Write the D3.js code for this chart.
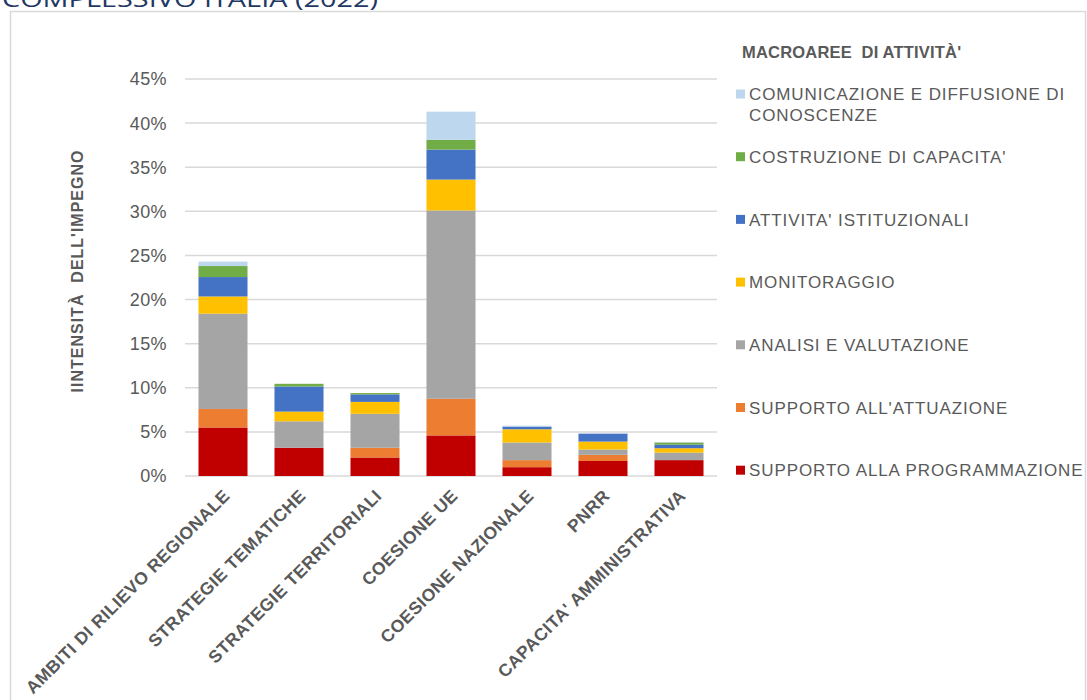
<!DOCTYPE html>
<html>
<head>
<meta charset="utf-8">
<script src="https://cdn.jsdelivr.net/npm/d3@7"></script>
<style>
  body { margin: 0; background: #fff; }
  svg text { font-family: "Liberation Sans", Arial, sans-serif; white-space: pre; }
</style>
</head>
<body>
<svg id="chart" width="1087" height="700"></svg>
<script>
// categories (x axis)
const categories = ["AMBITI DI RILIEVO REGIONALE", "STRATEGIE TEMATICHE", "STRATEGIE TERRITORIALI",
    "COESIONE UE", "COESIONE NAZIONALE", "PNRR", "CAPACITA' AMMINISTRATIVA"];

// series, bottom to top of the stack (values in %)
const seriesNames = ["SUPPORTO ALLA PROGRAMMAZIONE", "SUPPORTO ALL'ATTUAZIONE", "ANALISI E VALUTAZIONE",
    "MONITORAGGIO", "ATTIVITA' ISTITUZIONALI", "COSTRUZIONE DI CAPACITA'",
    "COMUNICAZIONE E DIFFUSIONE DI CONOSCENZE"];
const supportoProgrammazione = [5.5, 3.2, 2.1, 4.6, 1.0, 1.7, 1.8];
const supportoAttuazione     = [2.1, 0.0, 1.1, 4.15, 0.8, 0.7, 0.0];
const analisiValutazione     = [10.8, 3.0, 3.85, 21.35, 2.0, 0.6, 0.85];
const monitoraggio           = [1.95, 1.1, 1.35, 3.5, 1.5, 0.9, 0.5];
const attivitaIstituzionali  = [2.2, 2.85, 0.85, 3.4, 0.3, 0.9, 0.4];
const costruzioneCapacita    = [1.25, 0.3, 0.15, 1.1, 0.0, 0.0, 0.25];
const comunicazione          = [0.5, 0.0, 0.0, 3.2, 0.1, 0.0, 0.05];
const seriesColors = ["#c00000", "#ed7d31", "#a5a5a5", "#ffc000", "#4472c4", "#70ad47", "#bdd7ee"];

const yTicks = [0, 5, 10, 15, 20, 25, 30, 35, 40, 45];

const allSeries = [supportoProgrammazione, supportoAttuazione, analisiValutazione,
    monitoraggio, attivitaIstituzionali, costruzioneCapacita, comunicazione];

// one row per category for d3.stack
let table = categories.map((c, i) => {
    let row = { cat: c };
    seriesNames.forEach((s, j) => { row[s] = allSeries[j][i]; });
    return row;
});

let svg = d3.select("#chart");
let gray = "#595959";

// outer frame + cut off page title
svg.append("rect")
    .attr("x", 10.5).attr("y", 11.5)
    .attr("width", 1075).attr("height", 700)
    .attr("fill", "none").attr("stroke", "#d9d9d9").attr("stroke-width", 1.5);

svg.append("text")
    .attr("x", 2).attr("y", 7)
    .attr("textLength", 376).attr("lengthAdjust", "spacingAndGlyphs")
    .style("font-family", "'Open Sans', sans-serif")
    .style("font-size", "22px")
    .attr("fill", "#1f3864")
    .text("COMPLESSIVO ITALIA (2022)");

let x = d3.scaleBand()
    .domain(categories)
    .range([185, 717])
    .paddingInner(0.355)
    .paddingOuter(0.1775);

let y = d3.scaleLinear()
    .domain([0, 45])
    .range([476, 79]);

// gridlines
svg.append("g")
    .selectAll("line")
    .data(yTicks)
    .join("line")
    .attr("x1", 185).attr("x2", 717)
    .attr("y1", d => y(d)).attr("y2", d => y(d))
    .attr("stroke", "#d9d9d9").attr("stroke-width", 1.5);

// y tick labels
svg.append("g")
    .selectAll("text")
    .data(yTicks)
    .join("text")
    .attr("x", 167).attr("y", d => y(d))
    .attr("dy", "0.36em")
    .attr("text-anchor", "end")
    .style("font-size", "18px")
    .style("letter-spacing", "0.4px")
    .attr("fill", gray)
    .text(d => d + "%");

// axis title
svg.append("text")
    .attr("transform", "translate(83,271) rotate(-90)")
    .attr("text-anchor", "middle")
    .style("font-size", "16px")
    .style("font-weight", "bold")
    .style("letter-spacing", "1px")
    .attr("fill", gray)
    .text("IINTENSITÀ  DELL'IMPEGNO");

// stacked bars
let stack = d3.stack().keys(seriesNames);
let layers = stack(table);

svg.append("g")
    .selectAll("g")
    .data(layers)
    .join("g")
    .attr("fill", (d, i) => seriesColors[i])
    .selectAll("rect")
    .data(d => d)
    .join("rect")
    .attr("x", d => x(d.data.cat))
    .attr("width", x.bandwidth())
    .attr("y", d => y(d[1]))
    .attr("height", d => y(d[0]) - y(d[1]));

// x labels, rotated
svg.append("g")
    .selectAll("text")
    .data(categories)
    .join("text")
    .attr("transform", d => "translate(" + (x(d) + x.bandwidth() / 2 - 1) + ",488) rotate(-45)")
    .attr("dy", "0.72em")
    .attr("text-anchor", "end")
    .style("font-size", "17.5px")
    .style("font-weight", "bold")
    .style("letter-spacing", "0.5px")
    .attr("fill", gray)
    .text(d => d);

// legend
let legend = svg.append("g");
legend.append("text")
    .attr("x", 742).attr("y", 52)
    .attr("dy", "0.36em")
    .style("font-size", "16.5px")
    .style("font-weight", "bold")
    .style("letter-spacing", "0.2px")
    .attr("fill", gray)
    .text("MACROAREE  DI ATTIVITÀ'");

// legend is listed top to bottom, reverse of the stack
let legendRows = [
    { lines: ["COMUNICAZIONE E DIFFUSIONE DI", "CONOSCENZE"], color: seriesColors[6] },
    { lines: [seriesNames[5]], color: seriesColors[5] },
    { lines: [seriesNames[4]], color: seriesColors[4] },
    { lines: [seriesNames[3]], color: seriesColors[3] },
    { lines: [seriesNames[2]], color: seriesColors[2] },
    { lines: [seriesNames[1]], color: seriesColors[1] },
    { lines: [seriesNames[0]], color: seriesColors[0] }
];

let item = legend.selectAll("g.item")
    .data(legendRows)
    .join("g")
    .attr("class", "item")
    .attr("transform", (d, i) => "translate(0," + (94 + i * 62.7) + ")");

item.append("rect")
    .attr("x", 736).attr("y", -4.5)
    .attr("width", 9).attr("height", 9)
    .attr("fill", d => d.color);

item.append("text")
    .attr("x", 749).attr("y", 0)
    .style("font-size", "17px")
    .style("letter-spacing", "0.9px")
    .attr("fill", gray)
    .selectAll("tspan")
    .data(d => d.lines)
    .join("tspan")
    .attr("x", 749)
    .attr("y", (d, i) => i * 21)
    .attr("dy", "0.36em")
    .text(d => d);
</script>
</body>
</html>
